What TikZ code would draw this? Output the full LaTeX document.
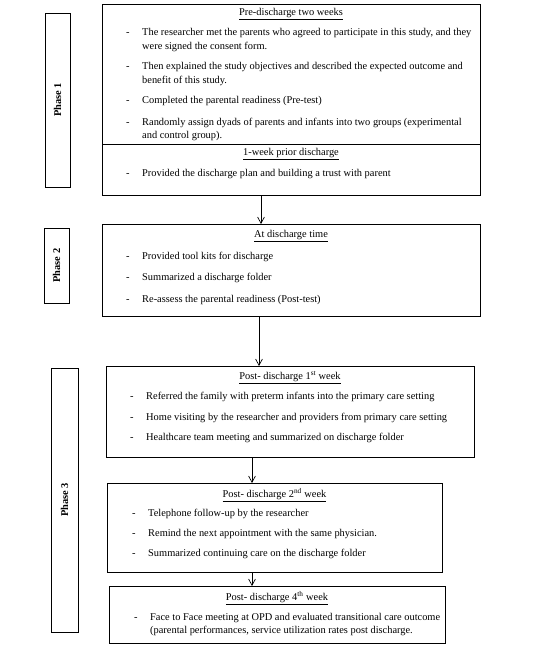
\documentclass[tikz,border=0pt]{standalone}
\usepackage{fontspec}
\setmainfont{Liberation Serif}
\usetikzlibrary{arrows.meta,positioning}

\begin{document}
\begin{tikzpicture}[x=1pt, y=-1pt, every node/.style={font=\fontsize{10.4}{12}\selectfont}, box/.style={draw, line width=0.9pt, inner sep=0pt, outer sep=0pt}, phase/.style={draw, line width=0.9pt, inner sep=0pt, rotate=90, font=\fontsize{10.4}{12}\selectfont\bfseries}, head/.style={anchor=base, inner sep=0pt}, txt/.style={anchor=base west, inner sep=0pt}, >={Straight Barb[length=2.2mm,width=2.4mm]}]
\useasboundingbox (0,0) rectangle (533,647);
% phase labels
\node[phase, minimum width=174pt, minimum height=25pt] (ph1) at (57.5,100) {Phase 1};
\node[phase, minimum width=75pt, minimum height=25pt] (ph2) at (56.5,265.5) {Phase 2};
\node[phase, minimum width=264pt, minimum height=27pt] (ph3) at (64.5,500) {Phase 3};
% boxes
\node[box, minimum width=378pt, minimum height=140pt] (pre) at (291,74) {};
\node[box, minimum width=378pt, minimum height=51pt] (prior) at (291,169.5) {};
\node[box, minimum width=378pt, minimum height=92pt] (disch) at (291,270) {};
\node[box, minimum width=368pt, minimum height=91pt] (wk1) at (290,411.5) {};
\node[box, minimum width=335pt, minimum height=89pt] (wk2) at (274.5,527.5) {};
\node[box, minimum width=336pt, minimum height=57pt] (wk4) at (277,614.5) {};
% Pre-discharge two weeks
\node[head] (pre-h) at (291,15.5) {\underline{Pre-discharge two weeks}};
\foreach \n/\y in {1/36,2/70,3/104,4/125.5}
  \node[txt] (pre-b\n) at (126,\y) {-};
\node[txt] (pre-1) at (142,36) {The researcher met the parents who agreed to participate in this study, and they};
\node[txt] (pre-1b) at (142,49.5) {were signed the consent form.};
\node[txt] (pre-2) at (142,70) {Then explained the study objectives and described the expected outcome and};
\node[txt] (pre-2b) at (142,83.5) {benefit of this study.};
\node[txt] (pre-3) at (142,104) {Completed the parental readiness (Pre-test)};
\node[txt] (pre-4) at (142,125.5) {Randomly assign dyads of parents and infants into two groups (experimental};
\node[txt] (pre-4b) at (142,139) {and control group).};
% 1-week prior discharge
\node[head] (prior-h) at (291,156) {\underline{1-week prior discharge}};
\node[txt] (prior-b1) at (126,176) {-};
\node[txt] (prior-1) at (142,176) {Provided the discharge plan and building a trust with parent};
% At discharge time
\node[head] (disch-h) at (291,237.5) {\underline{At discharge time}};
\foreach \n/\y/\t in {1/259.5/{Provided tool kits for discharge},2/280.5/{Summarized a discharge folder},3/302.5/{Re-assess the parental readiness (Post-test)}}{
  \node[txt] (disch-b\n) at (126,\y) {-};
  \node[txt] (disch-\n) at (142,\y) {\t};
}
% Post-discharge 1st week
\node[head] (wk1-h) at (290,379.5) {\underline{Post- discharge 1\textsuperscript{st} week}};
\foreach \n/\y/\t in {1/399.5/{Referred the family with preterm infants into the primary care setting},2/420.5/{Home visiting by the researcher and providers from primary care setting},3/440.5/{Healthcare team meeting and summarized on discharge folder}}{
  \node[txt] (wk1-b\n) at (130,\y) {-};
  \node[txt] (wk1-\n) at (146,\y) {\t};
}
% Post-discharge 2nd week
\node[head] (wk2-h) at (274.5,497.5) {\underline{Post- discharge 2\textsuperscript{nd} week}};
\foreach \n/\y/\t in {1/516.5/{Telephone follow-up by the researcher},2/536.5/{Remind the next appointment with the same physician.},3/556.5/{Summarized continuing care on the discharge folder}}{
  \node[txt] (wk2-b\n) at (132,\y) {-};
  \node[txt] (wk2-\n) at (148,\y) {\t};
}
% Post-discharge 4th week
\node[head] (wk4-h) at (277,600.5) {\underline{Post- discharge 4\textsuperscript{th} week}};
\node[txt] (wk4-b1) at (134,620.5) {-};
\node[txt] (wk4-1) at (150,620.5) {Face to Face meeting at OPD and evaluated transitional care outcome};
\node[txt] (wk4-1b) at (150,633.5) {(parental performances, service utilization rates post discharge.};
% arrows
\draw[->, line width=0.7pt] ([xshift=-30pt]prior.south) -- ([xshift=-30pt]disch.north);
\draw[->, line width=0.7pt] ([xshift=-32pt]disch.south) -- ([xshift=-31pt]wk1.north);
\draw[->, line width=0.7pt] ([xshift=-38pt]wk1.south) -- ([xshift=-22.5pt]wk2.north);
\draw[->, line width=0.7pt] ([xshift=-22.5pt]wk2.south) -- ([xshift=-25pt]wk4.north);
\end{tikzpicture}
\end{document}
